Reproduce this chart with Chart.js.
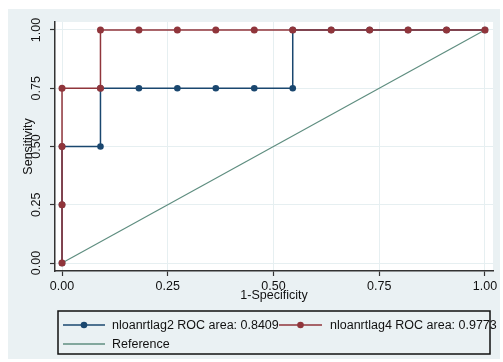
<!DOCTYPE html>
<html>
<head>
<meta charset="utf-8">
<script src="https://cdn.jsdelivr.net/npm/chart.js@4"></script>
<style>
  body { margin: 0; background: #ffffff; }
  canvas { display: block; }
</style>
</head>
<body>
<canvas id="roc" width="503" height="362"></canvas>
<script>
// 1-Specificity / Sensitivity pairs
const xLag2 = [0, 0, 0, 0.0909, 0.0909, 0.1818, 0.2727, 0.3636, 0.4545, 0.5455, 0.5455, 0.6364, 0.7273, 0.8182, 0.9091, 1];
const yLag2 = [0, 0.25, 0.5, 0.5, 0.75, 0.75, 0.75, 0.75, 0.75, 0.75, 1, 1, 1, 1, 1, 1];
const xLag4 = [0, 0, 0, 0, 0.0909, 0.0909, 0.1818, 0.2727, 0.3636, 0.4545, 0.5455, 0.6364, 0.7273, 0.8182, 0.9091, 1];
const yLag4 = [0, 0.25, 0.5, 0.75, 0.75, 1, 1, 1, 1, 1, 1, 1, 1, 1, 1, 1];
const xRef = [0, 1];
const yRef = [0, 1];
const tickValues = [0, 0.25, 0.5, 0.75, 1];
const labelLag2 = "nloanrtlag2 ROC area: 0.8409";
const labelLag4 = "nloanrtlag4 ROC area: 0.9773";
const labelRef = "Reference";

const NAVY = "#1a476f";
const MAROON = "#90353b";
const TEAL = "#5f8e80";
const FONT = "Liberation Sans, Arial, sans-serif";

function pts(xs, ys) {
  return xs.map((x, i) => ({ x: x, y: ys[i] }));
}

// grey graph region + white plot region
const fondo = {
  id: "fondo",
  beforeDraw(chart) {
    const c = chart.ctx;
    const a = chart.chartArea;
    c.save();
    c.fillStyle = "#eaf1f3";
    c.fillRect(8, 9, 492, 350);
    c.fillStyle = "#ffffff";
    c.fillRect(a.left, a.top, a.right - a.left, a.bottom - a.top);
    c.restore();
  }
};

// Stata-style legend box below the plot
const legenda = {
  id: "legenda",
  afterDraw(chart) {
    const c = chart.ctx;
    c.save();
    c.strokeStyle = "#111111";
    c.lineWidth = 1.5;
    c.strokeRect(58, 311, 432, 43);
    c.font = "12.5px " + FONT;
    c.textBaseline = "middle";
    c.fillStyle = "#111111";

    function simbolo(x1, x2, y, cor, marcador) {
      c.strokeStyle = cor;
      c.lineWidth = 1.5;
      c.beginPath();
      c.moveTo(x1, y);
      c.lineTo(x2, y);
      c.stroke();
      if (marcador) {
        c.fillStyle = cor;
        c.beginPath();
        c.arc((x1 + x2) / 2, y, 3.3, 0, Math.PI * 2);
        c.fill();
      }
    }

    simbolo(63, 105, 325, NAVY, true);
    simbolo(279, 322, 325, MAROON, true);
    simbolo(63, 105, 344, TEAL, false);

    c.fillStyle = "#111111";
    c.fillText(labelLag2, 112, 326);
    c.fillText(labelLag4, 330, 326);
    c.fillText(labelRef, 112, 345);
    c.restore();
  }
};

const setTicks = scale => {
  scale.ticks = tickValues.map(v => ({ value: v }));
};

new Chart(document.getElementById("roc"), {
  type: "scatter",
  data: {
    datasets: [
      {
        label: labelLag4,
        data: pts(xLag4, yLag4),
        borderColor: MAROON,
        backgroundColor: MAROON,
        borderWidth: 1.5,
        pointRadius: 3.5,
        pointBorderWidth: 0,
        showLine: true,
        order: 0
      },
      {
        label: labelLag2,
        data: pts(xLag2, yLag2),
        borderColor: NAVY,
        backgroundColor: NAVY,
        borderWidth: 1.5,
        pointRadius: 3.3,
        pointBorderWidth: 0,
        showLine: true,
        order: 1
      },
      {
        label: labelRef,
        data: pts(xRef, yRef),
        borderColor: TEAL,
        borderWidth: 1.2,
        pointRadius: 0,
        showLine: true,
        order: 2
      }
    ]
  },
  options: {
    responsive: false,
    animation: false,
    layout: { padding: { left: 0, top: 22, right: 10, bottom: 59 } },
    plugins: {
      legend: { display: false },
      tooltip: { enabled: false }
    },
    scales: {
      x: {
        type: "linear",
        min: -0.0166,
        max: 1.019,
        afterBuildTicks: setTicks,
        afterFit: s => { s.height = 32; },
        grid: { color: "#e6eff1", lineWidth: 1, tickColor: "#333333", tickLength: 5, tickWidth: 1.2 },
        border: { color: "#333333", width: 1.5 },
        ticks: {
          color: "#111111",
          padding: 3,
          maxRotation: 0,
          font: { family: FONT, size: 12.5 },
          callback: v => v.toFixed(2)
        },
        title: {
          display: true,
          text: "1-Specificity",
          color: "#111111",
          padding: { top: 0, bottom: 0 },
          font: { family: FONT, size: 12.5 }
        }
      },
      y: {
        type: "linear",
        min: -0.0343,
        max: 1.0343,
        afterBuildTicks: setTicks,
        afterFit: s => { s.width = 55; },
        grid: { color: "#e6eff1", lineWidth: 1, tickColor: "#333333", tickLength: 5, tickWidth: 1.2 },
        border: { color: "#333333", width: 1.5 },
        ticks: {
          color: "#111111",
          padding: 1,
          minRotation: 90,
          maxRotation: 90,
          crossAlign: "center",
          font: { family: FONT, size: 12.5 },
          callback: v => v.toFixed(2)
        },
        title: {
          display: true,
          text: "Sensitivity",
          color: "#111111",
          padding: { top: 21, bottom: 0 },
          font: { family: FONT, size: 12.5 }
        }
      }
    }
  },
  plugins: [fondo, legenda]
});
</script>
</body>
</html>
